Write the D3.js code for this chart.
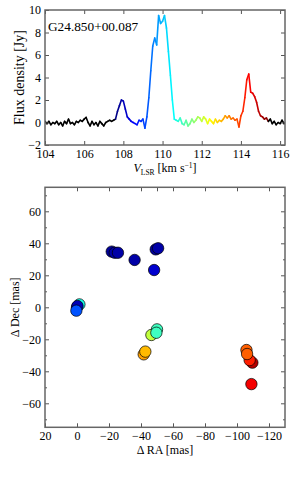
<!DOCTYPE html>
<html>
<head>
<meta charset="utf-8">
<script src="https://cdn.jsdelivr.net/npm/d3@7"></script>
<style>
  body { margin: 0; background: #fff; }
  svg text { font-family: "Liberation Serif", "Times New Roman", serif; fill: #000; }
  .tick line { stroke: #555; }
</style>
</head>
<body>
<div id="chart"></div>
<script>
// spectrum channels (km/s) and flux density (Jy)
const velocity = [
  104.0, 104.1, 104.2, 104.3, 104.4, 104.5, 104.6, 104.7, 104.8, 104.9,
  105.0, 105.1, 105.2, 105.3, 105.4, 105.5, 105.6, 105.7, 105.8, 105.9,
  106.0, 106.1, 106.2, 106.3, 106.4, 106.5, 106.6, 106.7, 106.8, 106.9,
  107.0, 107.1, 107.2, 107.3, 107.4, 107.5, 107.6, 107.7, 107.8, 107.9,
  108.0, 108.1, 108.2, 108.3, 108.4, 108.5, 108.6, 108.7, 108.8, 108.9,
  109.0, 109.1, 109.2, 109.3, 109.4, 109.5, 109.6, 109.7, 109.8, 109.9,
  110.0, 110.1, 110.2, 110.3, 110.4, 110.5, 110.6, 110.7, 110.8, 110.9,
  111.0, 111.1, 111.2, 111.3, 111.4, 111.5, 111.6, 111.7, 111.8, 111.9,
  112.0, 112.1, 112.2, 112.3, 112.4, 112.5, 112.6, 112.7, 112.8, 112.9,
  113.0, 113.1, 113.2, 113.3, 113.4, 113.5, 113.6, 113.7, 113.8, 113.9,
  114.0, 114.1, 114.2, 114.3, 114.4, 114.5, 114.6, 114.7, 114.8, 114.9,
  115.0, 115.1, 115.2, 115.3, 115.4, 115.5, 115.6, 115.7, 115.8, 115.9,
  116.0, 116.1, 116.2, 116.3
];
const flux = [
  0.1, -0.1, 0.1, -0.2, 0.0, -0.1, 0.1, -0.2, 0.0, -0.3,
  0.1, -0.1, 0.3, -0.1, 0.0, -0.2, 0.1, 0.0, 0.2, 0.1,
  0.3, 0.45, 0.0, -0.3, 0.1, -0.2, 0.0, -0.3, 0.1, -0.1,
  -0.3, 0.0, 0.1, 0.2, 0.1, 0.2, 0.3, 1.0, 1.5, 2.0,
  1.9, 1.2, 0.5, 0.3, 0.1, 0.0, -0.1, -0.2, 0.2, 0.1,
  0.3, -0.5, 0.5, 2.2, 4.6, 6.8, 7.5, 6.9, 9.5, 8.8,
  9.0, 9.5, 8.4, 6.3, 4.2, 2.0, 0.3, 0.2, 0.1, 0.4,
  -0.1, -0.2, 0.2, -0.3, -0.1, 0.3, 0.0, 0.2, 0.5, 0.4,
  0.1, 0.5, 0.3, -0.1, 0.3, 0.1, -0.1, 0.3, 0.0, 0.2,
  0.1, 0.3, 0.6, 0.4, 0.6, 0.3, 0.4, 0.2, 0.3, -0.4,
  0.6, 1.0, 2.2, 3.8, 4.3, 2.7, 2.6, 2.3, 1.8, 1.0,
  0.6, 0.5, 0.3, 0.4, 0.1, 0.3, -0.1, 0.1, -0.2, 0.0,
  -0.1, 0.2, -0.1, 0.0
];
// velocity range that gets the colour map
const colorRange = [107.6, 115.4];

// maser spots, drawn in this order
const spotRA  = [-21.7, -23.6, -25.6, -36.0, -49.2, -50.7, -48.2,
                 0.0, -1.5, -0.3, 0.4,
                 -46.5, -50.0, -49.6, -41.7, -42.7,
                 -109.6, -107.9, -105.9, -106.3, -109.0];
const spotDec = [34.8, 34.1, 34.1, 29.6, 36.2, 36.9, 23.3,
                 0.0, 1.8, 0.8, -2.1,
                 -17.3, -13.8, -15.9, -29.4, -27.7,
                 -34.6, -33.0, -26.7, -29.2, -48.0];
const spotVel = [107.8, 107.9, 107.9, 107.9, 107.8, 107.9, 108.2,
                 107.8, 110.7, 108.0, 109.2,
                 112.0, 111.0, 111.0, 113.2, 113.0,
                 115.0, 114.2, 113.7, 113.7, 114.5];

const specTicksX = [104, 106, 108, 110, 112, 114, 116];
const specTicksY = [-2, 0, 2, 4, 6, 8, 10];
const spotTicksX = [20, 0, -20, -40, -60, -80, -100, -120];
const spotTicksY = [-60, -40, -20, 0, 20, 40, 60];
const spotMinorY = [-70, -50, -30, -10, 10, 30, 50, 70];

const width = 300, height = 480;
const frameColor = '#666';

function jet(f) {
  const c = v => Math.max(0, Math.min(1, v));
  return d3.rgb(255 * c(1.5 - Math.abs(4 * f - 3)),
                255 * c(1.5 - Math.abs(4 * f - 2)),
                255 * c(1.5 - Math.abs(4 * f - 1))).formatHex();
}
const fracScale = d3.scaleLinear().domain(colorRange).range([0, 1]);
const velColor = v => (v < colorRange[0] || v > colorRange[1]) ? '#000' : jet(fracScale(v));
const fmt = d => d < 0 ? '\u2212' + Math.abs(d) : '' + d;

const svg = d3.select('#chart').append('svg')
  .attr('width', width).attr('height', height);

function inwardAxes(g, x, y, xt, yt, xTop, yRight, yMinor) {
  const [x0, x1] = x.range(), [y0, y1] = y.range();
  g.append('g').attr('transform', `translate(0,${y0})`)
    .call(d3.axisBottom(x).tickValues(xt).tickSize(-4).tickPadding(4).tickFormat(fmt));
  g.append('g').attr('transform', `translate(0,${y1})`)
    .call(d3.axisTop(x).tickValues(xTop || xt).tickSize(-4).tickFormat(''));
  g.append('g').attr('transform', `translate(${x0},0)`)
    .call(d3.axisLeft(y).tickValues(yt).tickSize(-4).tickPadding(4).tickFormat(fmt));
  g.append('g').attr('transform', `translate(${x1},0)`)
    .call(d3.axisRight(y).tickValues(yRight || yt).tickSize(-4).tickFormat(''));
  if (yMinor) {
    g.append('g').attr('transform', `translate(${x0},0)`)
      .call(d3.axisLeft(y).tickValues(yMinor).tickSize(-2).tickFormat(''));
    g.append('g').attr('transform', `translate(${x1},0)`)
      .call(d3.axisRight(y).tickValues(yMinor).tickSize(-2).tickFormat(''));
  }
  g.selectAll('.domain').remove();
  g.selectAll('.tick text').attr('font-size', 12)
    .attr('font-family', '"Liberation Serif", serif');
  g.append('rect')
    .attr('x', x0).attr('y', y1).attr('width', x1 - x0).attr('height', y0 - y1)
    .attr('fill', 'none').attr('stroke', frameColor).attr('stroke-width', 1.5);
}

// ---- spectrum panel
const xs = d3.scaleLinear().domain([104, 116.25]).range([45, 285]);
const ys = d3.scaleLinear().domain([-2, 10]).range([145, 10]);
const specG = svg.append('g');

specG.append('clipPath').attr('id', 'clipTop').append('rect')
  .attr('x', 45).attr('y', 10).attr('width', 240).attr('height', 135);

const segs = d3.range(velocity.length - 1).map(i => ({
  a: [velocity[i], flux[i]], b: [velocity[i + 1], flux[i + 1]],
  mid: (velocity[i] + velocity[i + 1]) / 2
}));
const line = d3.line().x(d => xs(d[0])).y(d => ys(d[1]));
specG.append('g').attr('clip-path', 'url(#clipTop)')
  .selectAll('path').data(segs).join('path')
  .attr('d', d => line([d.a, d.b]))
  .attr('fill', 'none')
  .attr('stroke', d => velColor(d.mid))
  .attr('stroke-width', 1.6)
  .attr('stroke-linecap', 'round');

inwardAxes(specG, xs, ys, specTicksX, specTicksY);

specG.append('text')
  .attr('x', 48).attr('y', 30.5)
  .attr('font-family', '"Liberation Sans", Arial, sans-serif')
  .attr('font-size', 13.3)
  .text('G24.850+00.087');

specG.append('text')
  .attr('transform', 'translate(24,77.5) rotate(-90)')
  .attr('text-anchor', 'middle').attr('font-size', 14)
  .text('Flux density [Jy]');

const xl = specG.append('text')
  .attr('x', 165).attr('y', 172)
  .attr('text-anchor', 'middle').attr('font-size', 12);
xl.append('tspan').attr('font-style', 'italic').text('V');
xl.append('tspan').attr('font-size', 7.5).attr('dy', 2.5).text('LSR');
xl.append('tspan').attr('dy', -2.5).text(' [km s');
xl.append('tspan').attr('font-size', 7.5).attr('dy', -4.5).text('\u22121');
xl.append('tspan').attr('dy', 4.5).text(']');

// ---- spot map panel
const xm = d3.scaleLinear().domain([20, -130]).range([45, 285]);
const ym = d3.scaleLinear().domain([-75, 75]).range([427.3, 187.3]);
const mapG = svg.append('g');

mapG.append('clipPath').attr('id', 'clipBot').append('rect')
  .attr('x', 45).attr('y', 187.3).attr('width', 240).attr('height', 240);

mapG.append('g').attr('clip-path', 'url(#clipBot)')
  .selectAll('circle').data(d3.range(spotRA.length)).join('circle')
  .attr('cx', i => xm(spotRA[i]))
  .attr('cy', i => ym(spotDec[i]))
  .attr('r', 5.7)
  .attr('fill', i => velColor(spotVel[i]))
  .attr('stroke', '#000')
  .attr('stroke-width', 0.7);

inwardAxes(mapG, xm, ym, spotTicksX, spotTicksY,
  [0, -20, -40, -50, -60, -80, -100, -120], spotTicksY, spotMinorY);

mapG.append('text')
  .attr('transform', 'translate(19,307.3) rotate(-90)')
  .attr('text-anchor', 'middle').attr('font-size', 12)
  .text('\u0394 Dec [mas]');

mapG.append('text')
  .attr('x', 165).attr('y', 453.5)
  .attr('text-anchor', 'middle').attr('font-size', 12)
  .text('\u0394 RA [mas]');
</script>
</body>
</html>
